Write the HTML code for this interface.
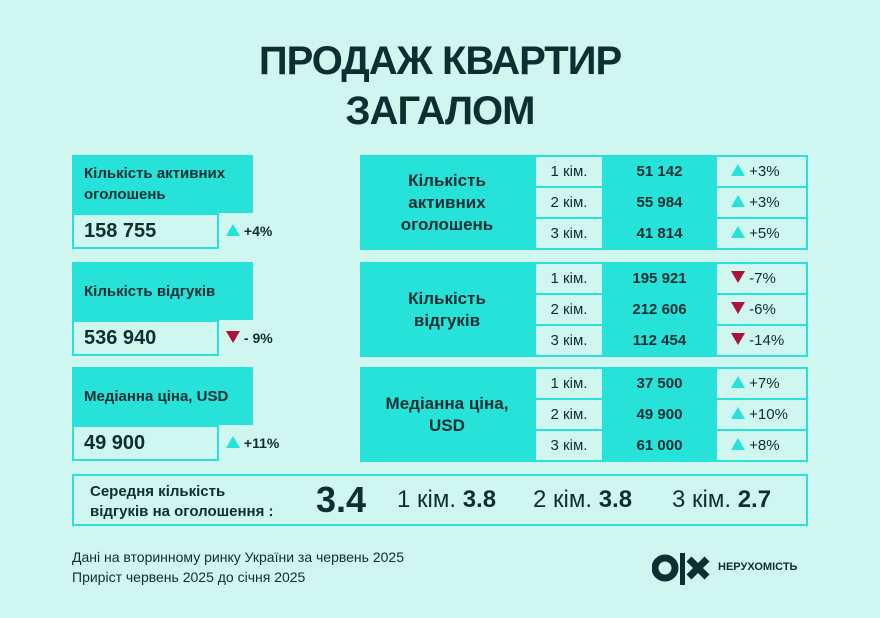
<!DOCTYPE html>
<html><head><meta charset="utf-8">
<style>
body{margin:0;width:880px;height:618px;background:#cff6ef;font-family:"Liberation Sans","DejaVu Sans",sans-serif;color:#0e2f31;position:relative;overflow:hidden}
.a{position:absolute;box-sizing:border-box}
.cy{background:#27e2d9}
.lt{background:#cff6ef;border:2px solid #27e2d9}
.b{font-weight:bold}
.up{width:0;height:0;border-left:7px solid transparent;border-right:7px solid transparent;border-bottom:12px solid #27e2d9;display:inline-block}
.dn{width:0;height:0;border-left:7px solid transparent;border-right:7px solid transparent;border-top:12px solid #a81538;display:inline-block}
.ctr{display:flex;align-items:center;justify-content:center;text-align:center}
</style></head><body>
<div class="a b" style="left:0;top:36px;width:880px;text-align:center;font-size:40px;line-height:50px;letter-spacing:-1px">ПРОДАЖ КВАРТИР<br>ЗАГАЛОМ</div>

<div id="left"></div>
<div id="right"></div>

<div class="a lt" style="left:72px;top:474px;width:736px;height:52px"></div>
<div class="a b" style="left:90px;top:482px;font-size:15px;line-height:20px">Середня кількість<br>відгуків на оголошення :</div>
<div class="a b" style="left:316px;top:480px;font-size:36px;line-height:40px">3.4</div>
<div class="a" style="left:397px;top:485px;font-size:24px;line-height:30px">1 кім. <b>3.8</b></div>
<div class="a" style="left:533px;top:485px;font-size:24px;line-height:30px">2 кім. <b>3.8</b></div>
<div class="a" style="left:672px;top:485px;font-size:24px;line-height:30px">3 кім. <b>2.7</b></div>

<div class="a" style="left:72px;top:547px;font-size:14px;line-height:20px">Дані на вторинному ринку України за червень 2025<br>Приріст червень 2025 до січня 2025</div>
<div class="a" style="left:652px;top:553px;width:60px;height:32px">
<svg width="60" height="32"><circle cx="13" cy="15" r="10" fill="none" stroke="#0e2f31" stroke-width="7"/><rect x="28" y="0" width="5" height="32" fill="#0e2f31"/><path d="M37 6 L55 24 M55 6 L37 24" stroke="#0e2f31" stroke-width="7"/></svg></div>
<div class="a b" style="left:718px;top:561px;font-size:11px">НЕРУХОМІСТЬ</div>

<script>
const leftLabels=["Кількість активних<br>оголошень","Кількість відгуків","Медіанна ціна, USD"];
const leftValues=["158 755","536 940","49 900"];
const leftChanges=["+4%","- 9%","+11%"];
const leftDir=[1,-1,1];
const rightLabels=["Кількість<br>активних<br>оголошень","Кількість<br>відгуків","Медіанна ціна,<br>USD"];
const rooms=["1 кім.","2 кім.","3 кім."];
const rightValues=[["51 142","55 984","41 814"],["195 921","212 606","112 454"],["37 500","49 900","61 000"]];
const rightChanges=[["+3%","+3%","+5%"],["-7%","-6%","-14%"],["+7%","+10%","+8%"]];
const rightDir=[1,-1,1];
const tops=[155,262,367];
const L=document.getElementById('left'),R=document.getElementById('right');
function mk(parent,cls,style,html){const d=document.createElement('div');d.className='a '+cls;d.style.cssText=style;d.innerHTML=html;parent.appendChild(d);return d;}
for(let i=0;i<3;i++){
 const t=tops[i];
 let h=mk(L,'cy b',`left:72px;top:${t}px;width:181px;height:58px;font-size:15px;line-height:21px;display:flex;align-items:center;padding:0 12px`,leftLabels[i]);
 
 
 let v=mk(L,'lt b',`left:72px;top:${t+58}px;width:147px;height:36px;font-size:20px;line-height:32px;padding-left:10px`,leftValues[i]);
 
 
 let c=mk(L,'b',`left:226px;top:${t+66}px;font-size:14px;line-height:20px`,`<span class="${leftDir[i]>0?'up':'dn'}"></span> ${leftChanges[i]}`);
 
 
 let bg=mk(R,'cy',`left:360px;top:${t}px;width:448px;height:95px`,'');
 
 
 let lb=mk(R,'b ctr',`left:360px;top:${t}px;width:174px;height:95px;font-size:17px;line-height:22px`,rightLabels[i]);
 
 
 for(let r=0;r<3;r++){
  const y=t+2+r*31;
  let rm=mk(R,'ctr',`left:536px;top:${y}px;width:66px;height:29px;background:#cff6ef;font-size:15px`,rooms[r]);
  
  
  let vv=mk(R,'b ctr',`left:604px;top:${y}px;width:111px;height:29px;font-size:15px`,rightValues[i][r]);
  
  
  let cc=mk(R,'',`left:717px;top:${y}px;width:89px;height:29px;background:#cff6ef;font-size:15px;line-height:29px;padding-left:14px`,`<span class="${rightDir[i]>0?'up':'dn'}"></span> ${rightChanges[i][r]}`);
  
  
 }
}
</script>
</body></html>
